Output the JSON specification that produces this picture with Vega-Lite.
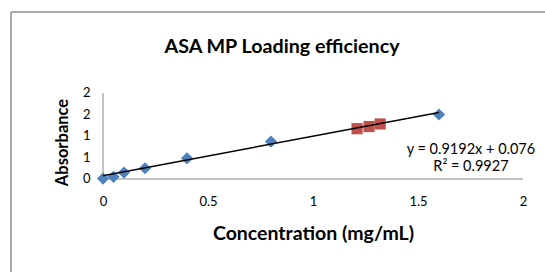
{
  "$schema": "https://vega.github.io/schema/vega-lite/v6.json",
  "width": 534,
  "height": 260,
  "autosize": {"type": "none"},
  "padding": {"left": 11, "top": 12, "right": 0, "bottom": 0},
  "background": "white",
  "title": {"text": "ASA MP Loading efficiency", "font": "Lato", "fontSize": 19.7, "fontWeight": "bold", "color": "black", "anchor": "middle", "baseline": "middle", "offset": 0, "dy": 55, "dx": 4},
  "config": {"view": {"stroke": null}},
  "data": {"values": [
    {"series": "std", "conc": 0, "abs": 0.01},
    {"series": "std", "conc": 0.05, "abs": 0.05},
    {"series": "std", "conc": 0.1, "abs": 0.15},
    {"series": "std", "conc": 0.2, "abs": 0.25},
    {"series": "std", "conc": 0.4, "abs": 0.48},
    {"series": "std", "conc": 0.8, "abs": 0.87},
    {"series": "std", "conc": 1.6, "abs": 1.5},
    {"series": "sample", "conc": 1.21, "abs": 1.17},
    {"series": "sample", "conc": 1.267, "abs": 1.22},
    {"series": "sample", "conc": 1.32, "abs": 1.28}
  ]},
  "layer": [
    {
      "data": {"values": [{}]},
      "mark": {"type": "rule", "color": "#8c8c8c", "strokeWidth": 1.5},
      "encoding": {
        "x": {"datum": -0.4381, "type": "quantitative"},
        "y": {"datum": -2.1628, "type": "quantitative"},
        "y2": {"datum": 3.8837}
      }
    },
    {
      "data": {"values": [{}]},
      "mark": {"type": "rule", "color": "#8c8c8c", "strokeWidth": 1.5},
      "encoding": {
        "x": {"datum": -0.4381, "type": "quantitative"},
        "x2": {"datum": 2.1048},
        "y": {"datum": 3.8837, "type": "quantitative"}
      }
    },
    {
      "data": {"values": [{}]},
      "mark": {"type": "rule", "color": "#868686", "strokeWidth": 1},
      "encoding": {
        "x": {"datum": 0, "type": "quantitative"},
        "y": {"datum": 0, "type": "quantitative"},
        "y2": {"datum": 2}
      }
    },
    {
      "data": {"values": [{}]},
      "mark": {"type": "rule", "color": "#868686", "strokeWidth": 1},
      "encoding": {
        "x": {"datum": 0, "type": "quantitative"},
        "x2": {"datum": 2},
        "y": {"datum": 0, "type": "quantitative"}
      }
    },
    {
      "mark": {"type": "point", "filled": true, "opacity": 1},
      "encoding": {
        "x": {
          "field": "conc", "type": "quantitative",
          "scale": {"domain": [-0.4381, 2.1048], "nice": false, "zero": false},
          "axis": {"orient": "bottom", "offset": -93, "values": [0, 0.5, 1, 1.5, 2], "format": "~g", "domain": false, "ticks": false, "grid": false,
                   "labelFont": "Lato", "labelFontSize": 13, "labelColor": "black", "labelPadding": 16,
                   "title": "Concentration (mg/mL)", "titleFont": "Lato", "titleFontSize": 19.5, "titleFontWeight": "bold", "titleColor": "black",
                   "titleX": 302, "titleY": 54, "titleBaseline": "middle", "titleAlign": "center"}
        },
        "y": {
          "field": "abs", "type": "quantitative",
          "scale": {"domain": [-2.1628, 3.8837], "nice": false, "zero": false},
          "axis": {"orient": "left", "offset": -92, "values": [0, 0.5, 1, 1.5, 2], "format": ".0f", "domain": false, "ticks": false, "grid": false,
                   "labelFont": "Lato", "labelFontSize": 13, "labelColor": "black", "labelPadding": 13,
                   "title": "Absorbance", "titleFont": "Lato", "titleFontSize": 16.5, "titleFontWeight": "bold", "titleColor": "black",
                   "titleX": -41, "titleY": 130, "titleBaseline": "middle", "titleAlign": "center", "titleAngle": -90}
        },
        "color": {"field": "series", "type": "nominal", "scale": {"domain": ["std", "sample"], "range": ["#4F81BD", "#C0504D"]}, "legend": null},
        "shape": {"field": "series", "type": "nominal", "scale": {"domain": ["std", "sample"], "range": ["diamond", "square"]}, "legend": null},
        "size": {"field": "series", "type": "nominal", "scale": {"domain": ["std", "sample"], "range": [150, 125]}, "legend": null}
      }
    },
    {
      "data": {"values": [{}]},
      "mark": {"type": "rule", "color": "black", "strokeWidth": 1.5},
      "encoding": {
        "x": {"datum": 0, "type": "quantitative"},
        "y": {"datum": 0.076, "type": "quantitative"},
        "x2": {"datum": 1.6},
        "y2": {"datum": 1.5467}
      }
    },
    {
      "data": {"values": [{}]},
      "mark": {"type": "text", "font": "Lato", "fontSize": 14.5, "color": "black", "align": "center", "baseline": "middle", "lineHeight": 17},
      "encoding": {
        "x": {"datum": 1.752, "type": "quantitative"},
        "y": {"datum": 0.68, "type": "quantitative"},
        "text": {"value": ["y = 0.9192x + 0.076", "R² = 0.9927"]}
      }
    }
  ]
}
